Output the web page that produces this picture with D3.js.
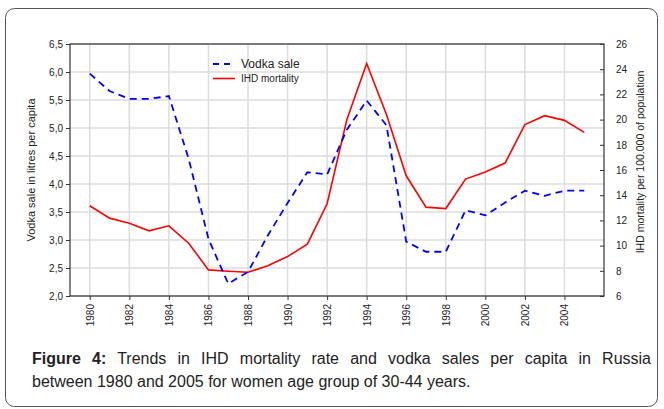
<!DOCTYPE html>
<html>
<head>
<meta charset="utf-8">
<script src="https://cdn.jsdelivr.net/npm/d3@7"></script>
<style>
  body { margin: 0; background: #fff; }
  svg { display: block; }
</style>
</head>
<body>
<div id="chart"></div>
<script>
// values
const years = d3.range(1980, 2006);
const vodka = [5.97, 5.66, 5.52, 5.52, 5.57, 4.45, 3.02, 2.22, 2.43, 3.08, 3.66, 4.21, 4.17,
               4.97, 5.49, 5.05, 2.97, 2.79, 2.79, 3.53, 3.44, 3.67, 3.88, 3.79, 3.88, 3.88];
const ihd = [13.16, 12.18, 11.78, 11.17, 11.57, 10.19, 8.07, 7.97, 7.88, 8.4, 9.13, 10.11, 13.32,
             20.0, 24.45, 20.4, 15.54, 13.05, 12.94, 15.28, 15.85, 16.55, 19.6, 20.31, 19.94, 18.99];
const xTicks = d3.range(1980, 2005, 2);
const leftTicks = d3.range(2, 6.51, 0.5);
const rightTicks = d3.range(6, 27, 2);

const W = 664, H = 409;
const svg = d3.select('#chart').append('svg').attr('width', W).attr('height', H);
const font = 'Liberation Sans, Arial, sans-serif';

// outer frame
svg.append('rect')
  .attr('x', 5.5).attr('y', 8.5).attr('width', 652).attr('height', 398)
  .attr('rx', 9).attr('fill', 'none').attr('stroke', '#555').attr('stroke-width', 1);

const L = 70, R = 604, T = 44, B = 296;
const x = d3.scaleLinear().domain([1979, 2006]).range([L, R]);
const yL = d3.scaleLinear().domain([2, 6.5]).range([B, T]);
const yR = d3.scaleLinear().domain([6, 26]).range([B, T]);

// grid
const grid = svg.append('g').attr('stroke', '#dcdcdc').attr('stroke-width', 1.5);
grid.selectAll('.gx').data(xTicks).join('line')
  .attr('x1', d => x(d)).attr('x2', d => x(d)).attr('y1', T).attr('y2', B);
grid.selectAll('.gy').data(leftTicks).join('line')
  .attr('x1', L).attr('x2', R).attr('y1', d => yL(d)).attr('y2', d => yL(d));

// plot box
svg.append('rect').attr('x', L).attr('y', T).attr('width', R - L).attr('height', B - T)
  .attr('fill', 'none').attr('stroke', '#333').attr('stroke-width', 1.2);

const comma = d => d3.format('.1f')(d).replace('.', ',');

const axL = svg.append('g').attr('transform', `translate(${L},0)`)
  .call(d3.axisLeft(yL).tickValues(leftTicks).tickFormat(comma).tickSize(4).tickPadding(3));
const axR = svg.append('g').attr('transform', `translate(${R},0)`)
  .call(d3.axisRight(yR).tickValues(rightTicks).tickSize(-4).tickPadding(12));
const axB = svg.append('g').attr('transform', `translate(0,${B})`)
  .call(d3.axisBottom(x).tickValues(xTicks).tickFormat(d3.format('d')).tickSize(4));

[axL, axR, axB].forEach(a => {
  a.select('.domain').remove();
  a.selectAll('line').attr('stroke', '#333');
  a.selectAll('text').attr('font-family', font).attr('font-size', 10).attr('fill', '#222');
});
axB.selectAll('text')
  .attr('transform', 'rotate(-90)')
  .attr('text-anchor', 'end')
  .attr('x', -8).attr('y', 0).attr('dy', '0.35em');

// axis titles
svg.append('text')
  .attr('transform', 'translate(35,170) rotate(-90)')
  .attr('text-anchor', 'middle').attr('font-family', font).attr('font-size', 11).attr('fill', '#222')
  .text('Vodka sale in litres per capita');
svg.append('text')
  .attr('transform', 'translate(644,162) rotate(-90)')
  .attr('text-anchor', 'middle').attr('font-family', font).attr('font-size', 10.5).attr('fill', '#222')
  .text('IHD mortality per 100.000 of population');

// series
const vodkaLine = d3.line().x((d, i) => x(years[i])).y(d => yL(d));
const ihdLine = d3.line().x((d, i) => x(years[i])).y(d => yR(d));

svg.append('path').datum(ihd)
  .attr('d', ihdLine).attr('fill', 'none').attr('stroke', '#ff0000').attr('stroke-width', 1.6);
svg.append('path').datum(vodka)
  .attr('d', vodkaLine).attr('fill', 'none').attr('stroke', '#0000ff')
  .attr('stroke-width', 1.8).attr('stroke-dasharray', '7,5');

// legend
const lg = svg.append('g');
lg.append('line').attr('x1', 213).attr('x2', 235).attr('y1', 64).attr('y2', 64)
  .attr('stroke', '#0000ff').attr('stroke-width', 1.8).attr('stroke-dasharray', '6,5');
lg.append('text').attr('x', 241).attr('y', 68).attr('font-family', font).attr('font-size', 12)
  .attr('fill', '#222').text('Vodka sale');
lg.append('line').attr('x1', 213).attr('x2', 235).attr('y1', 78.5).attr('y2', 78.5)
  .attr('stroke', '#ff0000').attr('stroke-width', 1.6);
lg.append('text').attr('x', 241).attr('y', 82).attr('font-family', font).attr('font-size', 10)
  .attr('fill', '#222').text('IHD mortality');

// caption (first line justified to the full width)
const cap = svg.append('text').attr('font-family', font).attr('font-size', 16).attr('fill', '#222');
const l1 = cap.append('tspan').attr('x', 32).attr('y', 364);
l1.append('tspan').attr('font-weight', 'bold').text('Figure 4:');
l1.append('tspan').text(' Trends in IHD mortality rate and vodka sales per capita in Russia');
cap.append('tspan').attr('x', 32).attr('y', 387)
  .text('between 1980 and 2005 for women age group of 30-44 years.');

const len1 = l1.node().getComputedTextLength();
const spaces = 13;
l1.attr('word-spacing', Math.max(0, (651 - 32 - len1) / spaces));
</script>
</body>
</html>
